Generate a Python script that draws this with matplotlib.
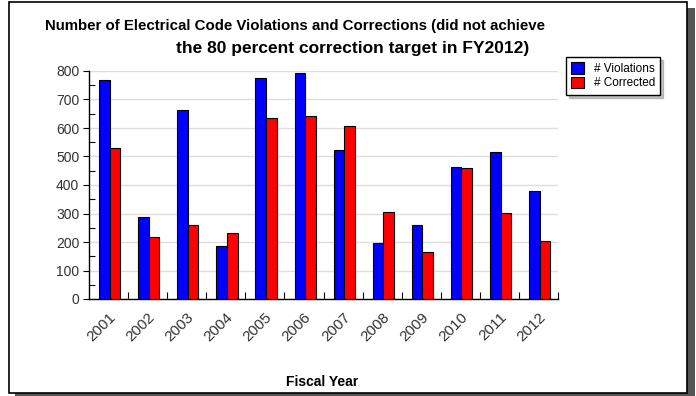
import numpy as np
import matplotlib.pyplot as plt
from matplotlib.patches import Rectangle

plt.rcParams['font.family'] = ['Liberation Sans', 'DejaVu Sans']

## data
years = ['2001', '2002', '2003', '2004', '2005', '2006',
         '2007', '2008', '2009', '2010', '2011', '2012']
violations = [768, 288, 664, 187, 777, 792, 524, 195, 260, 463, 516, 379]
corrected = [531, 219, 260, 230, 636, 643, 607, 306, 166, 458, 303, 202]

W, H = 696, 396
fig = plt.figure(figsize=(W / 100, H / 100), dpi=100)

## outer frame with shadow
fig.patches.append(Rectangle((15 / W, 0), 680 / W, (H - 8) / H,
                             transform=fig.transFigure, facecolor='#555555',
                             edgecolor='none', zorder=0))
fig.patches.append(Rectangle((9 / W, 3 / H), 678 / W, (H - 5) / H,
                             transform=fig.transFigure, facecolor='white',
                             edgecolor='black', lw=1.2, zorder=1))

ax = fig.add_axes([89 / W, (H - 299) / H, (558 - 89) / W, (299 - 71) / H])
ax.set_zorder(2)
ax.patch.set_alpha(0)

x = np.arange(len(years))
bw = 0.27
off = 0.03
ax.bar(x - bw / 2 + off, violations, bw, color='#0000ff', edgecolor='black',
       lw=0.8, label='# Violations', zorder=3)
ax.bar(x + bw / 2 + off, corrected, bw, color='#ff0000', edgecolor='black',
       lw=0.8, label='# Corrected', zorder=3)

ax.set_xlim(-0.5, len(years) - 0.5)
ax.set_ylim(0, 800)
ax.set_yticks(range(0, 801, 100))
ax.set_yticks(range(50, 800, 100), minor=True)
ax.tick_params(axis='y', which='major', direction='out', length=4, width=0.8,
               labelsize=10, labelcolor='#333333', pad=3)
ax.tick_params(axis='y', which='minor', direction='in', length=4, width=0.8)
ax.yaxis.grid(True, color='#dddddd', lw=1, zorder=0)

ax.set_xticks(x)
ax.set_xticklabels(years, rotation=45, ha='right', rotation_mode='anchor',
                   fontsize=11, color='#333333')
ax.set_xticks(np.arange(0.5, len(years), 1), minor=True)
ax.tick_params(axis='x', which='major', length=0, pad=8)
ax.tick_params(axis='x', which='minor', direction='in', length=5, width=0.8)

for s in ['top', 'right']:
    ax.spines[s].set_visible(False)
ax.spines['left'].set_linewidth(1)
ax.spines['bottom'].set_linewidth(1)

fig.text(295 / W, 1 - 26 / H,
         'Number of Electrical Code Violations and Corrections (did not achieve',
         ha='center', va='center', fontsize=10.8, fontweight='bold')
fig.text(353 / W, 1 - 48 / H, 'the 80 percent correction target in FY2012)',
         ha='center', va='center', fontsize=12.5, fontweight='bold')
fig.text(322 / W, 1 - 382 / H, 'Fiscal Year', ha='center', va='center',
         fontsize=10, fontweight='bold')

leg = ax.legend(loc='upper left', bbox_to_anchor=(566 / W, 1 - 57 / H),
                bbox_transform=fig.transFigure, fontsize=8.5, frameon=True,
                fancybox=False, shadow={'color': '#888888'}, edgecolor='black',
                borderpad=0.45, handlelength=1.1, handleheight=1.1,
                handletextpad=0.8, labelspacing=0.15, borderaxespad=0)
leg.get_frame().set_linewidth(1)

plt.savefig('out.png', dpi=100)
